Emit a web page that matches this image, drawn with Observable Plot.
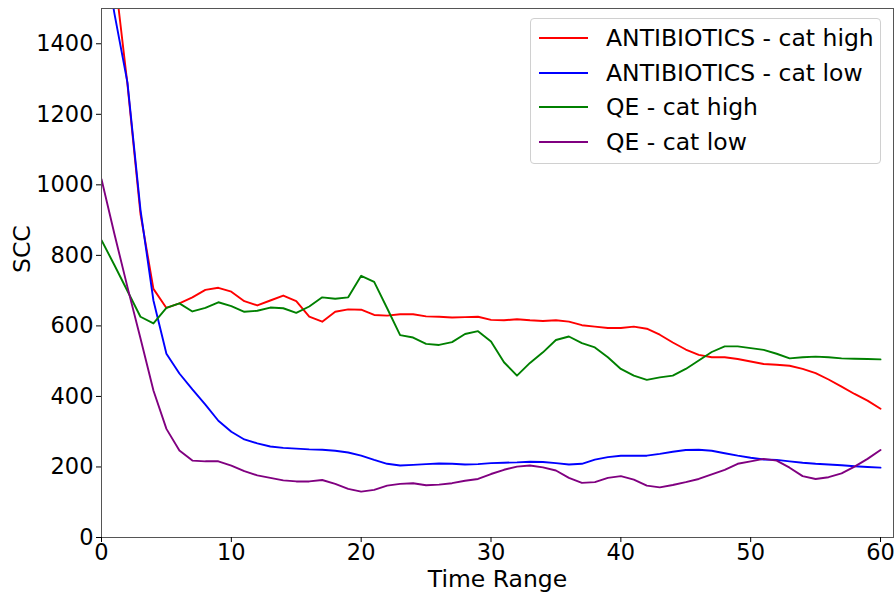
<!DOCTYPE html>
<html>
<head>
<meta charset="utf-8">
<script src="https://cdn.jsdelivr.net/npm/d3@7"></script>
<script src="https://cdn.jsdelivr.net/npm/@observablehq/plot@0.6"></script>
<style>
  body { margin: 0; background: #fff; font-family: "DejaVu Sans", sans-serif; }
  #wrap { position: relative; width: 896px; height: 597px; }
  #legend { position: absolute; left: 530px; top: 18px; width: 351px; height: 146px;
            border: 1px solid #d0d0d0; border-radius: 4px; background: rgba(255,255,255,0.85);
            box-sizing: border-box; }
  .row { position: absolute; left: 0; height: 34px; display: flex; align-items: center;
         font-size: 23.5px; color: #000; white-space: nowrap; }
  .sw { width: 49px; height: 0; border-top: 2px solid; margin-left: 8px; margin-right: 18px; }
</style>
</head>
<body>
<div id="wrap"><div id="chart"></div><div id="legend"></div></div>
<script>
const timeRange = [0,1,2,3,4,5,6,7,8,9,10,11,12,13,14,15,16,17,18,19,20,21,22,23,24,25,26,27,28,29,30,31,32,33,34,35,36,37,38,39,40,41,42,43,44,45,46,47,48,49,50,51,52,53,54,55,56,57,58,59,60];

const antibioticsHigh = [2000,1600,1285,918,705,651,664,681,702,708,697,670,658,672,686,670,626,612,640,647,646,631,629,633,633,627,626,624,625,626,617,616,619,616,614,616,612,602,598,594,594,598,592,575,553,533,518,511,511,506,499,492,490,487,478,466,448,428,407,388,365];

const antibioticsLow = [1700,1485,1290,930,672,521,465,420,377,331,300,278,267,258,254,252,250,249,246,241,232,220,209,204,206,208,210,209,207,208,211,212,213,215,214,211,207,209,221,228,232,232,232,237,243,248,249,246,239,232,226,221,220,216,212,209,207,205,202,200,198];

const qeHigh = [843,772,699,626,607,651,664,641,651,667,656,640,643,652,650,637,655,681,677,681,742,725,650,574,567,549,546,554,577,585,556,497,459,495,525,560,570,551,539,511,478,459,447,454,459,478,502,526,542,542,537,532,521,508,511,513,511,508,507,506,505];

const qeLow = [1016,860,710,565,417,308,247,218,216,216,204,188,176,169,162,159,159,163,152,138,130,135,147,152,154,148,150,154,161,166,180,192,201,204,199,190,169,155,157,169,174,164,147,142,149,157,166,179,192,209,216,223,218,198,174,166,171,182,201,223,248];

const seriesNames = ["ANTIBIOTICS - cat high", "ANTIBIOTICS - cat low", "QE - cat high", "QE - cat low"];
const seriesColors = ["red", "blue", "green", "purple"];
const seriesValues = [antibioticsHigh, antibioticsLow, qeHigh, qeLow];

const xTicks = [0, 10, 20, 30, 40, 50, 60];
const yTicks = [0, 200, 400, 600, 800, 1000, 1200, 1400];
const xLabel = "Time Range";
const yLabel = "SCC";

const rows = [];
seriesNames.forEach((name, i) => {
  seriesValues[i].forEach((v, j) => rows.push({series: name, t: timeRange[j], v}));
});

const chart = Plot.plot({
  width: 896,
  height: 597,
  marginLeft: 101,
  marginRight: 3,
  marginTop: 8,
  marginBottom: 60,
  style: {fontFamily: "DejaVu Sans, sans-serif", fontSize: "22px", color: "#000", background: "#fff"},
  x: {domain: [0, 61]},
  y: {domain: [0, 1500]},
  color: {domain: seriesNames, range: seriesColors},
  marks: [
    Plot.line(rows, {x: "t", y: "v", z: "series", stroke: "series", strokeWidth: 1.9, clip: true}),
    Plot.frame({stroke: "#555", strokeWidth: 1}),
    Plot.axisX({ticks: xTicks, tickSize: 5, tickPadding: 2, fontSize: 22.5, label: null}),
    Plot.axisY({ticks: yTicks, tickSize: 5, tickPadding: 3, fontSize: 22.5, label: null, tickFormat: d => String(d)}),
    Plot.text([xLabel], {text: d => d, frameAnchor: "bottom", dy: 42, fontSize: 23.5, lineAnchor: "middle"}),
    Plot.text([yLabel], {text: d => d, frameAnchor: "left", dx: -79, rotate: -90, fontSize: 23.5})
  ]
});
document.getElementById("chart").appendChild(chart);

const legend = document.getElementById("legend");
const rowTops = [2, 37, 71, 106];
seriesNames.forEach((name, i) => {
  const r = document.createElement("div");
  r.className = "row";
  r.style.top = rowTops[i] + "px";
  const sw = document.createElement("span");
  sw.className = "sw";
  sw.style.borderTopColor = seriesColors[i];
  const tx = document.createElement("span");
  tx.textContent = name;
  r.appendChild(sw);
  r.appendChild(tx);
  legend.appendChild(r);
});
</script>
</body>
</html>
